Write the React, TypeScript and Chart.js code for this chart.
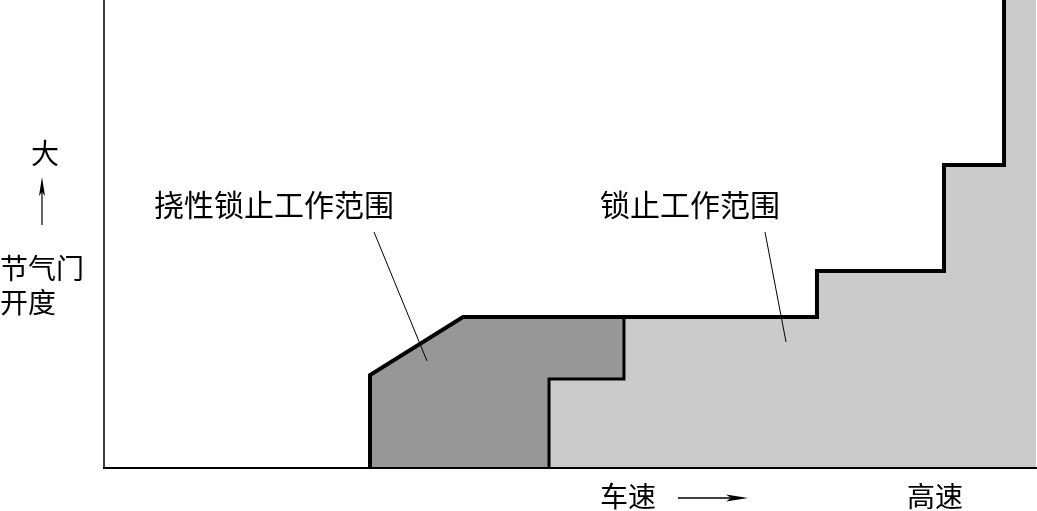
import React, { useEffect, useRef } from "react";
import { Chart, registerables } from "chart.js";

Chart.register(...registerables);

// Speed axis (0 = lowest, 100 = highest) and throttle axis (0 = closed, 100 = full)
const lockSpeed = [47.75, 47.75, 55.79, 55.79, 76.5, 76.5, 90.13, 90.13, 96.57, 96.57, 100, 100];
const lockThrottle = [0, 19.02, 19.02, 32.26, 32.26, 42.09, 42.09, 64.74, 64.74, 100, 100, 0];

const flexSpeed = [28.54, 28.54, 38.52, 55.79, 55.79, 47.75, 47.75];
const flexThrottle = [0, 19.87, 32.26, 32.26, 19.02, 19.02, 0];

const outerSpeed = [28.54, 28.54, 38.52, 76.5, 76.5, 90.13, 90.13, 96.57, 96.57];
const outerThrottle = [0, 19.87, 32.26, 32.26, 42.09, 42.09, 64.74, 64.74, 100];

const innerSpeed = [55.79, 55.79, 47.75, 47.75];
const innerThrottle = [32.26, 19.02, 19.02, 0];

const regionLabels = ["挠性锁止工作范围", "锁止工作范围"];
const leaderSpeed = [
  [28.97, 34.66],
  [70.92, 73.18],
];
const leaderThrottle = [
  [50.43, 22.86],
  [50.43, 26.92],
];

const yAxisTop = "大";
const yAxisTitle = ["节气门", "开度"];
const xAxisTitle = "车速";
const xAxisEnd = "高速";

const pts = (xs: number[], ys: number[]) => xs.map((x, i) => ({ x, y: ys[i] }));

const FONT = '"Noto Sans CJK SC", "Noto Sans", sans-serif';

const decorPlugin = {
  id: "decor",
  afterDatasetsDraw(chart: any) {
    const ctx = chart.ctx as CanvasRenderingContext2D;
    const { left, right, top, bottom } = chart.chartArea;
    const xs = chart.scales.x;
    const ys = chart.scales.y;
    ctx.save();
    // frame
    ctx.strokeStyle = "#000";
    ctx.lineWidth = 1.5;
    ctx.beginPath();
    ctx.moveTo(left, top);
    ctx.lineTo(left, bottom);
    ctx.stroke();
    ctx.lineWidth = 2;
    ctx.beginPath();
    ctx.moveTo(left - 1, bottom);
    ctx.lineTo(right + 1, bottom);
    ctx.stroke();

    // leader lines
    ctx.lineWidth = 1;
    for (let i = 0; i < leaderSpeed.length; i++) {
      ctx.beginPath();
      ctx.moveTo(xs.getPixelForValue(leaderSpeed[i][0]), ys.getPixelForValue(leaderThrottle[i][0]));
      ctx.lineTo(xs.getPixelForValue(leaderSpeed[i][1]), ys.getPixelForValue(leaderThrottle[i][1]));
      ctx.stroke();
    }

    ctx.fillStyle = "#000";
    ctx.textBaseline = "middle";
    ctx.textAlign = "left";
    ctx.font = `30px ${FONT}`;
    ctx.fillText(regionLabels[0], 154, 205);
    ctx.fillText(regionLabels[1], 600, 205);

    ctx.font = `28px ${FONT}`;
    ctx.textAlign = "center";
    ctx.fillText(yAxisTop, 45, 153);
    ctx.textAlign = "left";
    ctx.fillText(yAxisTitle[0], 0, 268);
    ctx.fillText(yAxisTitle[1], 0, 302);
    ctx.fillText(xAxisTitle, 600, 496);
    ctx.fillText(xAxisEnd, 907, 496);

    // vertical arrow
    ctx.lineWidth = 1.2;
    ctx.beginPath();
    ctx.moveTo(42, 225);
    ctx.lineTo(42, 186);
    ctx.stroke();
    ctx.beginPath();
    ctx.moveTo(42, 177);
    ctx.lineTo(45, 196);
    ctx.lineTo(42, 192);
    ctx.lineTo(39, 196);
    ctx.closePath();
    ctx.fill();

    // horizontal arrow
    ctx.lineWidth = 1.5;
    ctx.beginPath();
    ctx.moveTo(678, 498);
    ctx.lineTo(735, 498);
    ctx.stroke();
    ctx.beginPath();
    ctx.moveTo(748, 498);
    ctx.lineTo(726, 494.5);
    ctx.lineTo(731, 498);
    ctx.lineTo(726, 501.5);
    ctx.closePath();
    ctx.fill();
    ctx.restore();
  },
};

export default function App() {
  const ref = useRef<HTMLCanvasElement | null>(null);
  useEffect(() => {
    document.body.style.margin = "0";
    document.body.style.background = "#fff";
    const canvas = ref.current!;
    const chart = new Chart(canvas, {
      type: "scatter",
      data: {
        datasets: [
          {
            data: pts(outerSpeed, outerThrottle),
            showLine: true,
            borderColor: "#000",
            borderWidth: 4,
            pointRadius: 0,
            fill: false,
            clip: false,
            borderJoinStyle: "miter",
          } as any,
          {
            data: pts(innerSpeed, innerThrottle),
            showLine: true,
            borderColor: "#000",
            borderWidth: 3,
            pointRadius: 0,
            fill: false,
            clip: false,
            borderJoinStyle: "miter",
          } as any,
          {
            data: pts(flexSpeed, flexThrottle),
            showLine: true,
            borderWidth: 0,
            borderColor: "rgba(0,0,0,0)",
            backgroundColor: "#979797",
            pointRadius: 0,
            fill: "shape",
          } as any,
          {
            data: pts(lockSpeed, lockThrottle),
            showLine: true,
            borderWidth: 0,
            borderColor: "rgba(0,0,0,0)",
            backgroundColor: "#cbcbcb",
            pointRadius: 0,
            fill: "shape",
          } as any,
        ],
      },
      options: {
        animation: false,
        responsive: false,
        maintainAspectRatio: false,
        events: [],
        layout: { padding: { left: 104, top: 0, right: 1, bottom: 43 } },
        plugins: {
          legend: { display: false },
          tooltip: { enabled: false },
          filler: { propagate: false },
        },
        scales: {
          x: { type: "linear", min: 0, max: 100, display: false },
          y: { type: "linear", min: 0, max: 100, display: false },
        },
      },
      plugins: [decorPlugin],
    });
    return () => chart.destroy();
  }, []);
  return (
    <div style={{ width: 1037, height: 511, background: "#fff" }}>
      <canvas ref={ref} width={1037} height={511} style={{ display: "block", width: 1037, height: 511 }} />
    </div>
  );
}
